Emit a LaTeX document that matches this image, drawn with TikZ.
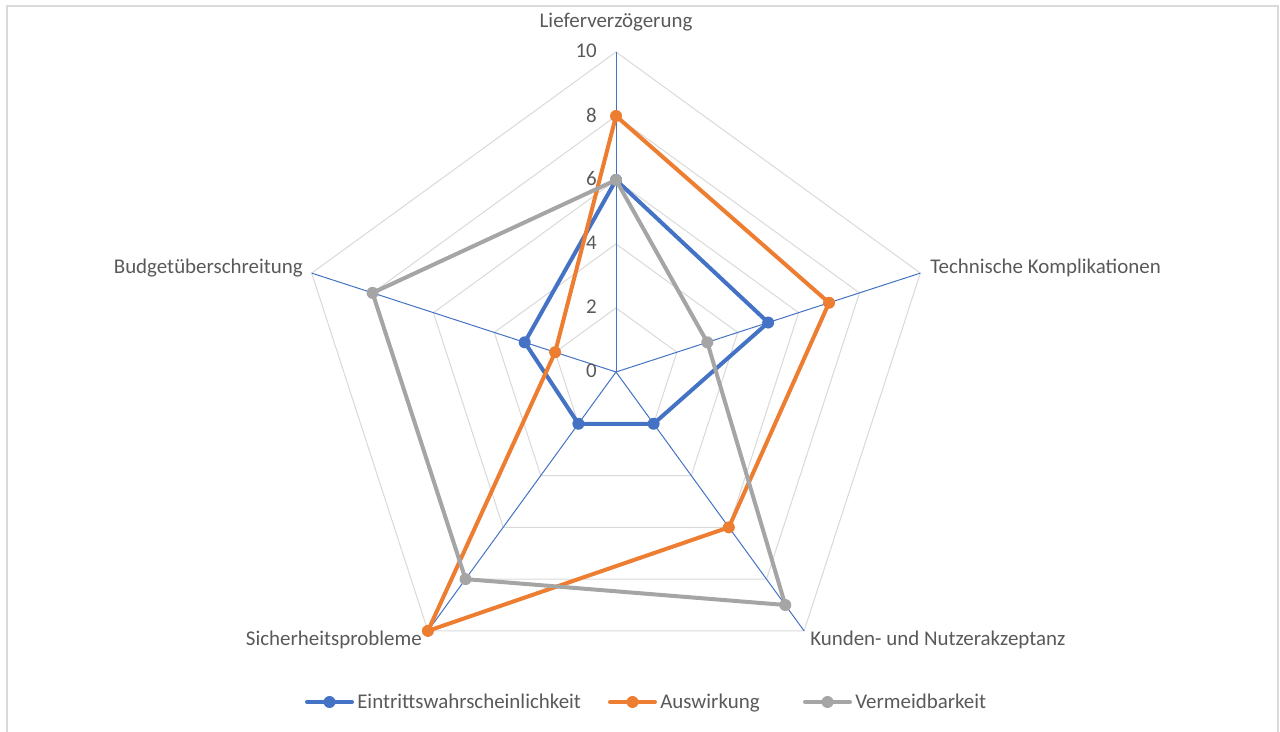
\documentclass[tikz,border=0pt]{standalone}
\usepackage{fontspec}
\setmainfont{Carlito}
\usetikzlibrary{calc}
\definecolor{cblue}{HTML}{4472C4}
\definecolor{corange}{HTML}{ED7D31}
\definecolor{cgray}{HTML}{A5A5A5}
\definecolor{txt}{HTML}{595959}
\definecolor{gridc}{HTML}{D9D9D9}
\begin{document}
\begin{tikzpicture}[x=0.75pt,y=0.75pt,
  lbl/.style={font=\fontsize{15.7}{18}\selectfont, text=txt, inner sep=0pt},
  leglbl/.style={lbl, text height=1.55ex, text depth=0.45ex, anchor=west},
  gridline/.style={draw=gridc, line width=0.75pt},
  axisline/.style={draw=cblue, line width=0.75pt},
  serline/.style={line width=3pt, line join=round},
  dotmk/.style={circle, fill=#1, draw=none, inner sep=0pt, minimum size=9pt}]
\useasboundingbox (0,0) rectangle (1280,731);
\draw[draw=gridc, line width=1.2pt] (7,-20) rectangle (1278,725);
\begin{scope}[shift={(616,359)}]
  % grid pentagons
  \foreach \r in {2,4,6,8,10} {
    \draw[gridline] (90:\r*32) -- (18:\r*32) -- (-54:\r*32) -- (-126:\r*32) -- (162:\r*32) -- cycle;
  }
  \coordinate (C) at (0,0);
  \coordinate (A1) at (90:320);
  \coordinate (A2) at (18:320);
  \coordinate (A3) at (-54:320);
  \coordinate (A4) at (-126:320);
  \coordinate (A5) at (162:320);
  \foreach \i in {1,...,5} { \draw[axisline] (C) -- (A\i); }
  % tick labels
  \foreach \v in {0,2,4,6,8,10} {
    \node[lbl, anchor=east] (t\v) at (-19,\v*32+1) {\v};
  }
  % data coordinates
  \coordinate (b1) at (90:6*32);
  \coordinate (b2) at (18:5*32);
  \coordinate (b3) at (-54:2*32);
  \coordinate (b4) at (-126:2*32);
  \coordinate (b5) at (162:3*32);
  \coordinate (o1) at (90:8*32);
  \coordinate (o2) at (18:7*32);
  \coordinate (o3) at (-54:6*32);
  \coordinate (o4) at (-126:10*32);
  \coordinate (o5) at (162:2*32);
  \coordinate (g1) at (90:6*32);
  \coordinate (g2) at (18:3*32);
  \coordinate (g3) at (-54:9*32);
  \coordinate (g4) at (-126:8*32);
  \coordinate (g5) at (162:8*32);
  \draw[serline, cblue] (b1) -- (b2) -- (b3) -- (b4) -- (b5) -- cycle;
  \foreach \i in {1,...,5} { \node[dotmk=cblue] (mb\i) at (b\i) {}; }
  \draw[serline, corange] (o1) -- (o2) -- (o3) -- (o4) -- (o5) -- cycle;
  \foreach \i in {1,...,5} { \node[dotmk=corange] (mo\i) at (o\i) {}; }
  \draw[serline, cgray] (g1) -- (g2) -- (g3) -- (g4) -- (g5) -- cycle;
  \foreach \i in {1,...,5} { \node[dotmk=cgray] (mg\i) at (g\i) {}; }
\end{scope}
% category labels
\node[lbl, anchor=center] (c1) at (616,709) {Lieferverzögerung};
\node[lbl, anchor=west] (c2) at (930,463) {Technische Komplikationen};
\node[lbl, anchor=west] (c3) at (810,91) {Kunden- und Nutzerakzeptanz};
\node[lbl, anchor=east] (c4) at (422,91) {Sicherheitsprobleme};
\node[lbl, anchor=east] (c5) at (303,463) {Budgetüberschreitung};
% legend
\coordinate (l1a) at (307,29); \coordinate (l1b) at (352,29);
\coordinate (l2a) at (610,29); \coordinate (l2b) at (655,29);
\coordinate (l3a) at (805,29); \coordinate (l3b) at (850,29);
\draw[serline, cblue, line cap=round] (l1a) -- (l1b);
\node[dotmk=cblue] (lm1) at ($(l1a)!0.5!(l1b)$) {};
\node[leglbl] (lt1) at (357,26) {Eintrittswahrscheinlichkeit};
\draw[serline, corange, line cap=round] (l2a) -- (l2b);
\node[dotmk=corange] (lm2) at ($(l2a)!0.5!(l2b)$) {};
\node[leglbl] (lt2) at (660,26) {Auswirkung};
\draw[serline, cgray, line cap=round] (l3a) -- (l3b);
\node[dotmk=cgray] (lm3) at ($(l3a)!0.5!(l3b)$) {};
\node[leglbl] (lt3) at (855,26) {Vermeidbarkeit};
\end{tikzpicture}
\end{document}
